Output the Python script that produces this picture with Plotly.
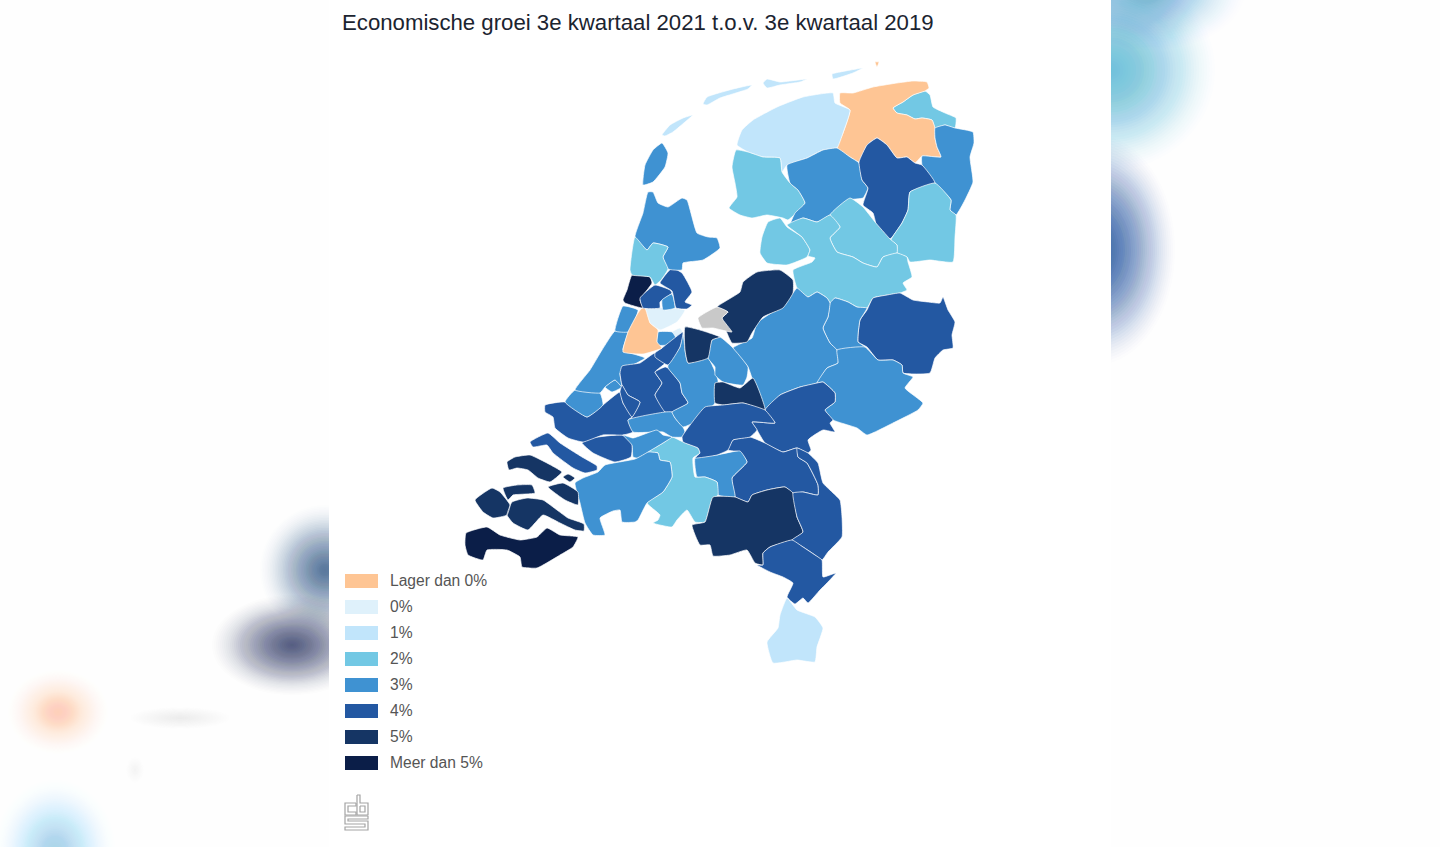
"""Economische groei per COROP-gebied, 3e kwartaal 2021 t.o.v. 3e kwartaal 2019."""

import plotly.graph_objects as go

TITLE = "Economische groei 3e kwartaal 2021 t.o.v. 3e kwartaal 2019"

CLASS_LABELS = ["Lager dan 0%", "0%", "1%", "2%", "3%", "4%", "5%", "Meer dan 5%"]
CLASS_COLORS = ["#fec594", "#dff1fb", "#c1e5fb", "#72c8e4", "#3f92d2", "#2358a2", "#153564", "#0b1e48"]
NO_DATA = "#c9c9c9"

DELFZIJL = [(893,108),(903,102),(913,95),(925,91),(930,95),(933,107),(945,113),(956,118),(955,128),(945,125),(935,128),(932,120),(922,118),(915,119),(907,115),(897,113)]
OVERIG_GRONINGEN = [(840,93),(853,93),(873,87),(897,83),(913,81),(927,82),(929,88),(925,91),(913,95),(903,102),(893,108),(897,113),(907,115),(915,119),(922,118),(932,120),(935,128),(935,138),(937,147),(941,157),(922,156),(915,163),(907,157),(897,158),(887,145),(877,138),(867,145),(859,162),(850,157),(837,148),(843,133),(850,110),(840,103)]
OOST_GRONINGEN = [(935,128),(945,125),(955,128),(973,132),(974,143),(970,157),(973,182),(965,200),(956,215),(950,210),(951,200),(935,183),(922,165),(922,156),(941,157),(937,147),(935,138)]
NOORD_FRIESLAND = [(737,145),(742,130),(753,120),(777,107),(803,97),(833,93),(835,103),(850,110),(843,133),(837,148),(823,150),(807,158),(787,165),(782,172),(780,158),(763,157),(748,152)]
ZW_FRIESLAND = [(736,150),(748,152),(763,157),(780,158),(782,172),(790,183),(798,190),(805,203),(788,220),(783,218),(767,215),(752,218),(740,215),(729,208),(737,197),(735,183),(732,167)]
ZO_FRIESLAND = [(787,165),(807,158),(823,150),(837,148),(850,157),(859,163),(862,180),(868,188),(863,198),(848,200),(830,215),(817,222),(803,218),(790,225),(795,213),(805,203),(798,190),(790,183)]
NOORD_DRENTHE = [(859,162),(867,145),(877,138),(887,145),(897,158),(907,157),(915,163),(922,165),(935,183),(910,192),(908,210),(902,223),(890,239),(877,227),(873,213),(863,205),(868,188),(862,180)]
ZO_DRENTHE = [(910,192),(935,183),(951,200),(950,210),(956,215),(955,237),(953,262),(930,260),(910,262),(907,257),(897,253),(897,245),(891,240),(902,223),(908,210)]
ZW_DRENTHE = [(850,198),(863,207),(875,222),(890,239),(897,245),(897,253),(883,257),(877,267),(863,263),(853,257),(837,252),(830,238),(840,227),(830,215)]
NOORDOOSTPOLDER = [(768,222),(780,218),(787,227),(802,237),(810,250),(807,257),(787,265),(767,263),(760,253),(762,237)]
NOORD_OVERIJSSEL = [(787,225),(803,218),(817,222),(830,215),(840,227),(830,238),(837,252),(853,257),(863,263),(877,267),(883,257),(897,253),(907,257),(908,262),(912,277),(903,283),(907,290),(900,293),(873,298),(867,308),(857,307),(848,302),(835,298),(830,303),(827,298),(817,292),(808,297),(797,288),(793,270),(812,262),(815,258),(808,256),(810,250),(802,237)]
TWENTE = [(858,335),(860,320),(867,310),(873,298),(887,295),(900,293),(913,300),(928,302),(940,303),(943,297),(948,310),(955,322),(952,335),(953,348),(943,350),(935,358),(930,373),(903,373),(902,365),(893,360),(878,360),(867,347),(858,342)]
ZW_OVERIJSSEL = [(830,303),(835,298),(848,302),(857,307),(867,308),(860,320),(858,335),(858,342),(865,347),(837,350),(830,343),(823,328),(828,317)]
VELUWE = [(797,288),(808,297),(817,292),(827,298),(830,303),(828,317),(823,328),(830,343),(837,350),(838,363),(827,368),(817,383),(800,387),(780,395),(765,410),(757,393),(748,367),(733,348),(752,338),(757,323),(780,307),(793,293)]
ACHTERHOEK = [(837,350),(865,347),(878,360),(893,360),(902,365),(903,373),(913,377),(905,388),(923,403),(918,410),(893,423),(867,435),(857,428),(833,420),(825,410),(835,402),(835,393),(823,382),(817,383),(827,368),(838,363)]
ARNHEM_NIJMEGEN = [(765,410),(780,395),(800,387),(817,383),(823,382),(835,393),(835,402),(825,410),(833,420),(830,423),(835,432),(823,430),(808,440),(811,450),(808,453),(797,448),(783,452),(765,443),(757,430),(752,422),(775,423)]
NO_BRABANT = [(728,450),(733,440),(750,437),(765,443),(783,452),(797,448),(798,457),(807,463),(818,485),(818,495),(803,492),(793,493),(785,487),(767,490),(752,495),(748,502),(737,498),(735,497),(732,478),(747,462),(740,452)]
DEN_BOSCH = [(695,458),(717,455),(740,451),(747,462),(732,478),(735,497),(718,495),(717,482),(705,477),(697,477)]
MIDDEN_BRABANT = [(648,452),(663,443),(672,437),(683,442),(698,448),(700,453),(693,458),(695,477),(705,477),(717,482),(718,495),(712,500),(705,522),(695,522),(687,510),(677,520),(672,527),(653,523),(658,520),(660,515),(647,503),(663,492),(672,477),(670,462),(660,460),(658,453)]
WEST_BRABANT = [(575,483),(583,478),(598,472),(605,465),(635,459),(647,452),(658,453),(660,460),(670,462),(672,477),(663,492),(647,503),(638,520),(635,522),(622,522),(620,510),(613,511),(600,518),(605,535),(593,535),(585,523),(580,503)]
ZO_BRABANT = [(713,497),(735,497),(748,502),(752,495),(767,490),(785,487),(793,493),(797,517),(803,532),(792,540),(770,547),(763,553),(763,565),(755,563),(747,550),(730,555),(713,556),(710,545),(700,545),(692,525),(705,522)]
NOORD_LIMBURG = [(793,493),(803,492),(818,495),(818,485),(807,463),(798,457),(797,448),(808,453),(818,463),(823,483),(840,500),(842,517),(842,537),(828,552),(822,560),(815,555),(803,547),(792,540),(803,532),(797,517)]
MIDDEN_LIMBURG = [(763,553),(770,547),(792,540),(803,547),(815,555),(822,560),(823,577),(836,573),(827,583),(820,590),(808,603),(803,598),(795,604),(787,597),(793,583),(783,577),(770,572),(757,565),(763,565)]
ZUID_LIMBURG = [(787,598),(797,610),(815,617),(823,628),(817,647),(815,662),(797,660),(773,663),(767,642),(778,628),(780,615)]
ZEEUWS_VLAANDEREN = [(466,533),(487,527),(500,535),(520,540),(537,537),(547,528),(560,535),(578,537),(573,547),(560,555),(537,568),(522,567),(520,557),(507,550),(487,550),(483,560),(468,555),(465,545)]
WALCHEREN = [(475,500),(492,488),(500,492),(510,505),(507,515),(493,518),(483,512)]
NOORD_BEVELAND = [(503,488),(517,485),(532,485),(535,493),(513,495),(508,500)]
ZUID_BEVELAND = [(512,502),(527,498),(543,500),(557,510),(568,518),(584,524),(584,531),(575,530),(560,523),(543,515),(528,530),(513,523),(507,515)]
SCHOUWEN = [(507,462),(515,457),(530,455),(545,462),(562,472),(557,477),(550,482),(538,478),(528,470),(517,468),(509,470)]
THOLEN = [(548,487),(563,483),(578,492),(578,505),(565,500)]
PHILIPSLAND = [(563,477),(568,474),(575,478),(570,482)]
GOEREE = [(530,442),(548,433),(560,443),(582,457),(597,466),(597,470),(585,473),(573,468),(553,453),(547,445),(533,447)]
DORDRECHT = [(582,443),(592,438),(622,435),(632,442),(631,457),(615,462),(593,453)]
RIJNMOND = [(545,405),(565,402),(587,417),(603,405),(620,392),(623,403),(632,417),(628,420),(633,432),(623,435),(603,435),(583,442),(568,438),(555,428),(553,417),(545,412)]
WESTLAND = [(565,402),(575,390),(600,393),(603,405),(587,417)]
DELFT = [(605,387),(615,380),(622,387),(612,392)]
DEN_HAAG = [(615,331),(628,332),(623,350),(645,358),(627,368),(620,373),(622,387),(615,380),(605,387),(600,393),(575,390),(590,370),(602,350)]
LEIDEN = [(623,306),(638,310),(635,320),(628,332),(615,331)]
OOST_ZH = [(620,373),(622,366),(640,363),(655,353),(665,363),(655,372),(662,383),(655,395),(665,412),(630,422),(632,417),(640,402),(628,395),(622,385)]
KRIMPEN = [(622,385),(628,395),(640,402),(632,417),(623,403),(620,392)]
ALBLASSERWAARD = [(655,372),(665,367),(668,368),(680,383),(682,393),(688,403),(672,412),(665,412),(655,395),(662,383)]
RIVIEREN = [(628,420),(665,412),(672,412),(675,418),(683,427),(685,432),(682,437),(672,437),(663,432),(633,432)]
LAND_VAN_ALTENA = [(623,435),(633,438),(657,430),(663,435),(672,437),(663,443),(648,452),(637,458),(633,457),(632,445)]
UTRECHT_WEST = [(668,365),(680,347),(683,332),(685,350),(688,363),(708,358),(718,380),(715,403),(695,422),(683,427),(675,418),(672,412),(688,403),(682,393),(680,383),(668,368)]
GELDERSE_VALLEI = [(712,340),(720,337),(732,347),(748,367),(747,377),(743,385),(723,382),(715,375),(715,367),(708,358)]
BOMMEL = [(715,383),(723,382),(740,388),(753,378),(765,410),(743,403),(723,405),(715,403)]
BETUWE = [(685,432),(705,407),(723,405),(743,403),(765,410),(775,423),(752,422),(757,430),(750,437),(733,440),(728,450),(717,455),(695,458),(700,453),(698,448),(683,442),(682,437)]
UTRECHT_NOORD = [(685,327),(700,330),(720,337),(712,340),(708,358),(688,363),(685,350)]
GOOI = [(672,332),(680,328),(683,333),(677,340)]
AMSTELLAND = [(658,332),(672,332),(677,340),(668,345),(657,345)]
RIJNSTREEK = [(655,353),(662,348),(672,340),(683,332),(680,347),(668,365),(655,357)]
GROENE_HART = [(642,308),(645,308),(650,323),(658,330),(657,342),(662,348),(643,354),(623,352),(628,332),(638,313)]
GROOT_AMSTERDAM = [(645,308),(685,310),(677,322),(660,330),(650,323)]
IJMOND = [(632,275),(650,277),(652,283),(640,300),(643,308),(625,303),(623,300),(627,290)]
ZAANSTREEK = [(640,298),(655,285),(670,290),(672,293),(660,302),(660,308),(643,308)]
WATERLAND = [(662,300),(672,294),(675,308),(663,310)]
OOSTZAAN = [(660,283),(672,268),(682,273),(692,292),(685,302),(692,305),(687,309),(676,308),(672,291)]
KOP_NH = [(648,192),(653,192),(658,203),(668,207),(682,198),(687,200),(697,233),(708,237),(717,238),(720,248),(703,260),(683,263),(682,270),(668,269),(663,257),(668,247),(653,243),(647,250),(635,237),(643,213)]
ALKMAAR = [(635,237),(647,250),(653,243),(668,247),(663,257),(668,269),(661,280),(655,285),(650,277),(632,275),(630,270)]
TEXEL = [(662,143),(668,153),(665,167),(653,182),(643,185),(645,165),(653,150)]
VLIELAND = [(662,135),(670,125),(683,118),(693,115),(685,122),(673,132),(665,136)]
TERSCHELLING = [(703,104),(707,97),(733,89),(752,85),(748,89),(720,98),(707,105)]
AMELAND = [(763,83),(767,79),(780,82),(807,79),(800,82),(780,85),(767,88)]
SCHIERMONNIKOOG = [(832,74),(840,72),(863,68),(853,73),(833,79)]
ROTTUMEROOG = [(875,62),(879,62),(877,67)]
FLEVOLAND = [(717,307),(740,292),(743,282),(757,272),(780,270),(793,280),(793,293),(783,308),(763,317),(752,333),(747,342),(732,343),(727,333),(722,318),(728,312)]
ALMERE = [(698,318),(717,307),(728,312),(722,318),(732,332),(713,328),(702,328)]

# (contouren, klasse-index); None = geen gegevens
REGIONS = [
    ([DELFZIJL], 3), ([OVERIG_GRONINGEN, ROTTUMEROOG], 0), ([OOST_GRONINGEN], 4),
    ([NOORD_FRIESLAND, VLIELAND, TERSCHELLING, AMELAND, SCHIERMONNIKOOG], 2),
    ([ZW_FRIESLAND], 3), ([ZO_FRIESLAND], 4), ([NOORD_DRENTHE], 5), ([ZO_DRENTHE], 3),
    ([ZW_DRENTHE], 3), ([NOORDOOSTPOLDER], 3), ([NOORD_OVERIJSSEL], 3), ([TWENTE], 5),
    ([ZW_OVERIJSSEL], 4), ([VELUWE], 4), ([ACHTERHOEK], 4), ([ARNHEM_NIJMEGEN], 5),
    ([NO_BRABANT], 5), ([DEN_BOSCH], 4), ([MIDDEN_BRABANT], 3), ([WEST_BRABANT], 4),
    ([ZO_BRABANT], 6), ([NOORD_LIMBURG], 5), ([MIDDEN_LIMBURG], 5), ([ZUID_LIMBURG], 2),
    ([ZEEUWS_VLAANDEREN], 7), ([WALCHEREN, NOORD_BEVELAND, ZUID_BEVELAND, SCHOUWEN, THOLEN, PHILIPSLAND], 6),
    ([GOEREE], 5), ([DORDRECHT], 5), ([RIJNMOND], 5), ([WESTLAND], 4), ([DELFT], 4),
    ([DEN_HAAG], 4), ([LEIDEN], 4), ([OOST_ZH], 5), ([KRIMPEN], 5), ([ALBLASSERWAARD], 5),
    ([RIVIEREN], 4), ([LAND_VAN_ALTENA], 4), ([UTRECHT_WEST], 4), ([GELDERSE_VALLEI], 4),
    ([BOMMEL], 6), ([BETUWE], 5), ([UTRECHT_NOORD], 6), ([GOOI], 1), ([AMSTELLAND], 4),
    ([RIJNSTREEK], 5), ([GROOT_AMSTERDAM], 1), ([GROENE_HART], 0), ([IJMOND], 7),
    ([ZAANSTREEK], 5), ([WATERLAND], 4), ([OOSTZAAN], 5), ([KOP_NH], 4), ([ALKMAAR], 3),
    ([TEXEL], 4), ([FLEVOLAND], 6), ([ALMERE], None),
]

LOGO_PATHS = [
    [(356,803),(345,803),(345,815),(356,815),(356,812),(348,812),(348,806),(356,806),(356,803)],
    [(357,795),(360,795),(360,803),(368,803),(368,815),(357,815),(357,795)],
    [(360,806),(365,806),(365,812),(360,812),(360,806)],
    [(368,816),(345,816),(345,824),(365,824),(365,827),(345,827),(345,830),(368,830),(368,821),(348,821),(348,819),(368,819),(368,816)],
]

# wazige achtergrond naast het witte paneel: x, y, rx, ry, kleur, sterkte per laag
GLOW_X = [1110, 1150, 1095, 325, 292, 58, 180, 135, 55]
GLOW_Y = [70, -10, 250, 570, 645, 712, 718, 770, 850]
GLOW_RX = [105, 95, 80, 65, 80, 50, 110, 35, 60]
GLOW_RY = [100, 60, 115, 65, 50, 42, 24, 50, 70]
GLOW_COLOR = ["#6ec6e4", "#5aa9dc", "#2b5ea9", "#3c6290", "#454f7a", "#fdd4b0", "#d8d8d8", "#e0e0e0", "#a3dbf0"]
GLOW_ALPHA = [0.09, 0.05, 0.09, 0.06, 0.07, 0.05, 0.02, 0.02, 0.06]
GLOW_LAYERS = 40


def ring_xy(rings):
    xs, ys = [], []
    for ring in rings:
        xs += [p[0] for p in ring] + [ring[0][0], None]
        ys += [p[1] for p in ring] + [ring[0][1], None]
    return xs, ys


def glow_shapes():
    shapes = []
    for x, y, rx, ry, color, alpha in zip(GLOW_X, GLOW_Y, GLOW_RX, GLOW_RY, GLOW_COLOR, GLOW_ALPHA):
        for step in range(1, GLOW_LAYERS + 1):
            f = step / GLOW_LAYERS
            shapes.append(dict(
                type="circle", layer="below", fillcolor=color, opacity=alpha * (1.15 - f), line_width=0,
                x0=x - rx * f, x1=x + rx * f, y0=y - ry * f, y1=y + ry * f,
            ))
    return shapes


fig = go.Figure()

for rings, cls in REGIONS:
    xs, ys = ring_xy(rings)
    color = NO_DATA if cls is None else CLASS_COLORS[cls]
    fig.add_trace(go.Scatter(
        x=xs, y=ys, mode="lines", fill="toself", fillcolor=color,
        line=dict(color="rgba(255,255,255,0.85)", width=0.8, shape="spline", smoothing=0.4),
        hoverinfo="skip", showlegend=False,
    ))

logo_x, logo_y = ring_xy(LOGO_PATHS)
fig.add_trace(go.Scatter(
    x=logo_x, y=logo_y, mode="lines", line=dict(color="#a3a3a3", width=1.2),
    hoverinfo="skip", showlegend=False,
))

shapes = glow_shapes()
shapes.append(dict(type="rect", layer="below", x0=329, x1=1111, y0=0, y1=847, fillcolor="white", line_width=0))
annotations = [dict(
    text=TITLE, x=340, y=22, xanchor="left", yanchor="middle", showarrow=False,
    font=dict(family="Liberation Sans", size=22.2, color="#1b2430"),
)]
for i, (label, color) in enumerate(zip(CLASS_LABELS, CLASS_COLORS)):
    row_y = 581 + 26 * i
    shapes.append(dict(type="rect", x0=345, x1=378, y0=row_y - 7, y1=row_y + 7, fillcolor=color, line_width=0))
    annotations.append(dict(
        text=label, x=388, y=row_y - 0.5, xanchor="left", yanchor="middle", showarrow=False,
        font=dict(family="Liberation Sans", size=15.6, color="#555555"),
    ))

fig.update_layout(
    width=1440, height=847, margin=dict(l=0, r=0, t=0, b=0),
    paper_bgcolor="#fefefe", plot_bgcolor="rgba(0,0,0,0)",
    shapes=shapes, annotations=annotations,
    xaxis=dict(range=[0, 1440], visible=False, fixedrange=True),
    yaxis=dict(range=[847, 0], visible=False, fixedrange=True),
)

fig.write_html("out.html", config={"displayModeBar": False},
               post_script="document.body.style.margin='0';document.body.style.overflow='hidden';")
